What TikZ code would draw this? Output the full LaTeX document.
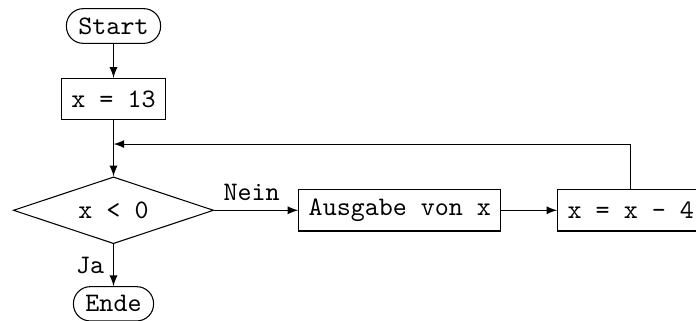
\documentclass[tikz,border=0pt]{standalone}
\usetikzlibrary{shapes,arrows,positioning,calc}
\begin{document}
\begin{tikzpicture}[node distance=1cm, auto]

% Define styles
\tikzstyle{terminal} = [rectangle, rounded corners=6.3pt, draw=black, inner xsep=4.5pt, font=\ttfamily]
\tikzstyle{process} = [rectangle, draw=black, minimum height=15.5pt, inner xsep=3.7pt, font=\ttfamily]
\tikzstyle{decision} = [diamond, draw=black, aspect=3, minimum width=75pt, minimum height=25pt, font=\ttfamily]
\tikzstyle{arrow} = [->, >=latex]
\tikzstyle{tag} = [font=\ttfamily]

\useasboundingbox (-42.5pt,-110.1pt) rectangle (218.1pt,9.74pt);

% Main column
\node (start) [terminal] {Start};
\node (init) [process, below=12.7pt of start] {x = 13};
\node (cond) [decision, below=21pt of init] {x < 0};
\node (stop) [terminal, below=15.7pt of cond] {Ende};

% Right branch
\node (out) [process, right=31.5pt of cond] {Ausgabe von x};
\node (upd) [process, right=20.9pt of out] {x = x - 4};

% Connections
\draw [arrow] (start) -- (init);
\draw [arrow] (init) -- (cond);
\draw [arrow] (cond) -- node[tag, left] {Ja} (stop);
\draw [arrow] (cond) -- node[tag, pos=0, above right] {Nein} (out);
\draw [arrow] (out) -- (upd);

% Loop back
\coordinate (loop) at ($(init.south)+(0,-8.9pt)$);
\draw [arrow] (upd.north) |- (loop);

\end{tikzpicture}
\end{document}
